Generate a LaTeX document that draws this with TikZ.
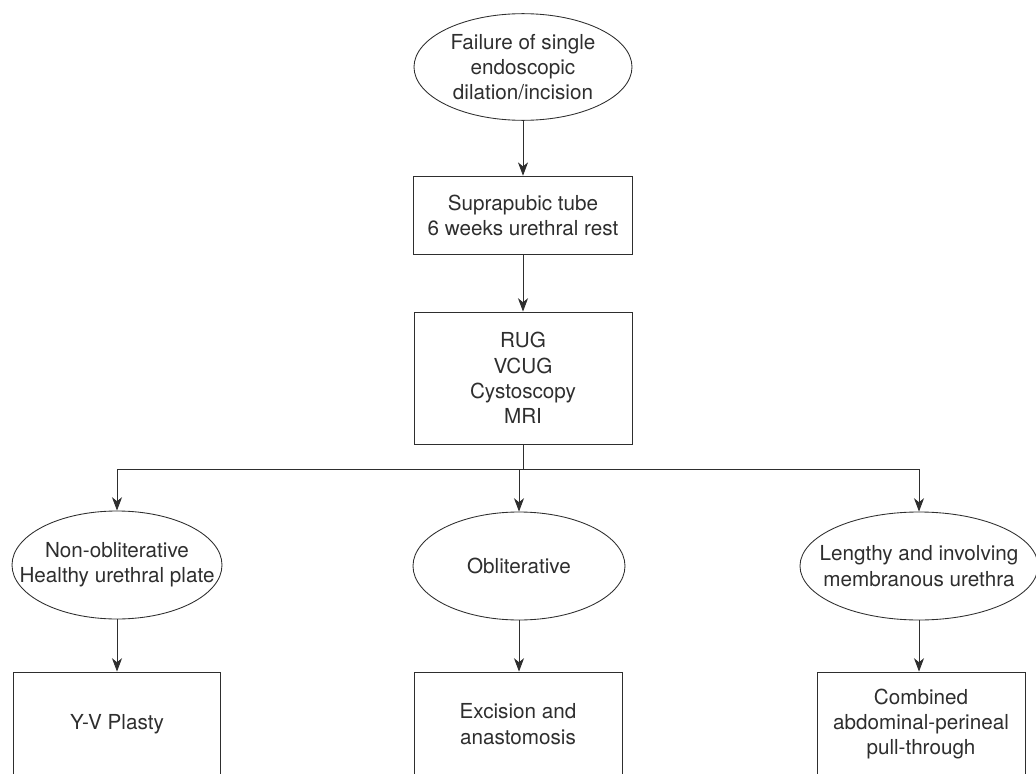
\documentclass[tikz,border=0pt]{standalone}
\usepackage{fontspec}
\setmainfont{TeX Gyre Heros}
\usepackage{xcolor}
\usetikzlibrary{arrows.meta,shapes.geometric}
\definecolor{inkgray}{HTML}{2E2E2E}

\tikzset{
	oval/.style={draw, ellipse, inner sep=0pt, minimum height=81pt},
	box/.style={draw, rectangle, inner sep=0pt},
}

\begin{document}
\begin{tikzpicture}[x=0.75pt,y=-0.75pt,color=inkgray,line width=0.65pt,
		>={Stealth[length=10pt,width=7.5pt,inset=3pt]},
		font=\fontsize{15.5}{19}\selectfont,
		every node/.style={align=center}]
		
		\useasboundingbox (0,0) rectangle (1036,774);
		
		% Top of the chart
		\node[oval, minimum width=163.5pt, minimum height=80pt,
			label=center:{Failure of single\\endoscopic\\dilation/incision}] (failure) at (523,67) {};
		\node[box, minimum width=164pt, minimum height=59pt] (rest) at (523,215.5)
			{Suprapubic tube\\6 weeks urethral rest};
		\node[box, minimum width=163.5pt, minimum height=99pt] (imaging) at (523,378)
			{RUG\\VCUG\\Cystoscopy\\MRI};
		\coordinate (split) at (523,469);
		
		% Three kinds of stricture
		\node[oval, minimum width=157.5pt,
			label=center:{Non-obliterative\\Healthy urethral plate}] (nonobl) at (117,565) {};
		\node[oval, minimum width=159pt,
			label=center:{Obliterative}] (oblit) at (519,566) {};
		\node[oval, minimum width=178.5pt,
			label=center:{Lengthy and involving\\membranous urethra}] (lengthy) at (919,566) {};
		
		% Repairs (boxes run past the lower edge)
		\node[box, minimum width=155pt, minimum height=78pt] (yv) at (117,724) {Y-V Plasty};
		\node[box, minimum width=156pt, minimum height=78pt] (excision) at (518,724)
			{Excision and\\anastomosis};
		\node[box, minimum width=156pt, minimum height=78pt] (pullthru) at (921,724)
			{Combined\\abdominal-perineal\\pull-through};
		
		% Connectors
		\draw[->] (failure) -- (rest);
		\draw[->] (rest) -- (imaging);
		\draw (imaging) -- (split);
		\draw[->] (split) -| (nonobl.north);
		\draw[->] (split) -| (lengthy.north);
		\draw[->] (oblit.north |- split) -- (oblit.north);
		\draw[->] (nonobl) -- (yv);
		\draw[->] (oblit) -- (oblit.south |- excision.north);
		\draw[->] (lengthy) -- (lengthy.south |- pullthru.north);
		
	\end{tikzpicture}
\end{document}
